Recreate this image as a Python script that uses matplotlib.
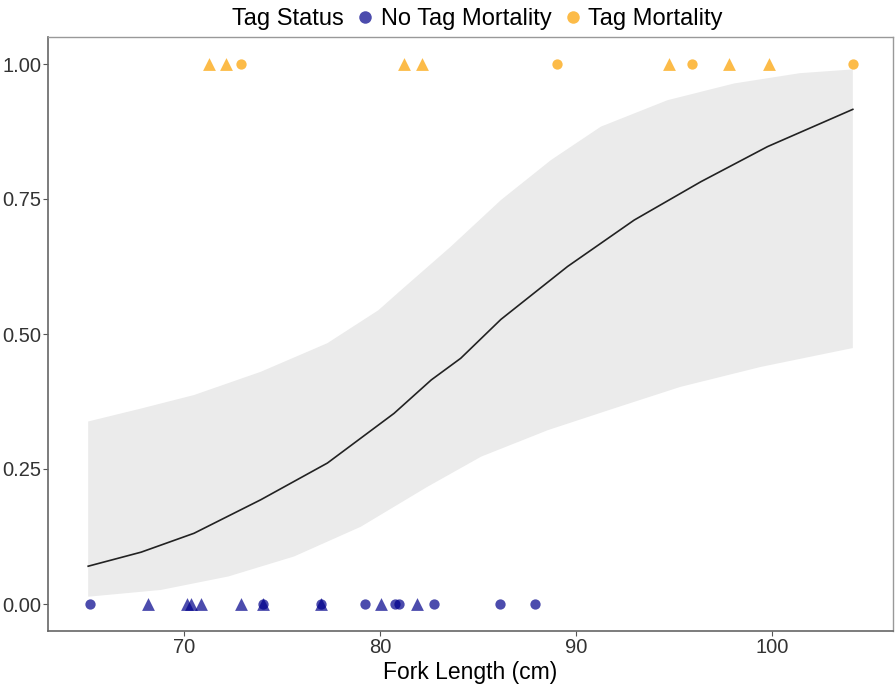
import numpy as np
import matplotlib
matplotlib.use('Agg')
import matplotlib.pyplot as plt
from matplotlib.lines import Line2D

plt.rcParams['font.family'] = ['Liberation Sans', 'DejaVu Sans']

# observations: y=0 no tag mortality, y=1 tag mortality
no_mort_circle_x = [65.2, 74.0, 77.0, 79.2, 80.75, 80.95, 82.75, 86.1, 87.9]
no_mort_triangle_x = [68.15, 70.15, 70.35, 70.85, 72.9, 74.0, 77.0, 80.05, 81.85]
mort_circle_x = [72.9, 89.0, 95.9, 104.1]
mort_triangle_x = [71.25, 72.15, 81.2, 82.15, 94.7, 97.8, 99.85]

# fitted logistic curve and confidence band
fit_x = [65.1, 67.8, 70.5, 73.9, 77.3, 80.7, 82.6, 84.1, 86.15, 89.55, 92.95, 96.35, 99.75, 104.1]
fit_y = [0.070, 0.096, 0.131, 0.193, 0.261, 0.353, 0.415, 0.455, 0.527, 0.625, 0.711, 0.782, 0.847, 0.916]

upper_x = [65.1, 67.8, 70.5, 73.9, 77.3, 79.9, 81.05, 83.6, 86.15, 88.7, 91.25, 94.65, 98.05, 101.4, 104.1]
upper_y = [0.338, 0.362, 0.387, 0.430, 0.483, 0.544, 0.581, 0.662, 0.748, 0.822, 0.884, 0.933, 0.964, 0.983, 0.990]

lower_x = [65.1, 68.8, 72.25, 75.6, 79.0, 82.4, 85.15, 88.55, 91.9, 95.3, 99.4, 104.1]
lower_y = [0.0135, 0.026, 0.051, 0.088, 0.143, 0.217, 0.273, 0.322, 0.362, 0.402, 0.439, 0.474]

blue = '#00008B'
orange = '#FCA50A'

fig = plt.figure(figsize=(8.96, 6.87), dpi=100)
ax = fig.add_axes([48 / 896, 1 - 631 / 687, (893 - 48) / 896, (631 - 37) / 687])

band_x = np.array(upper_x + lower_x[::-1])
band_y = np.array(upper_y + lower_y[::-1])
ax.fill(band_x, band_y, color='#EBEBEB', lw=0, zorder=1)
ax.plot(fit_x, fit_y, color='#222222', lw=1.2, zorder=2)

ax.scatter(no_mort_circle_x, np.zeros(len(no_mort_circle_x)), s=55, marker='o', color=blue, alpha=0.7, lw=0, zorder=3)
ax.scatter(no_mort_triangle_x, np.zeros(len(no_mort_triangle_x)), s=85, marker='^', color=blue, alpha=0.7, lw=0, zorder=3)
ax.scatter(mort_circle_x, np.ones(len(mort_circle_x)), s=55, marker='o', color=orange, alpha=0.75, lw=0, zorder=3)
ax.scatter(mort_triangle_x, np.ones(len(mort_triangle_x)), s=85, marker='^', color=orange, alpha=0.75, lw=0, zorder=3)

ax.set_xlim(63.05, 106.15)
ax.set_ylim(-0.05, 1.05)
ax.set_xticks([70, 80, 90, 100])
ax.set_yticks([0, 0.25, 0.5, 0.75, 1.0])
ax.set_yticklabels(['0.00', '0.25', '0.50', '0.75', '1.00'])
ax.tick_params(labelsize=14.5, length=3.5, width=0.8, color='#555555', labelcolor='#333333', pad=1.5)
ax.set_xlabel('Fork Length (cm)', fontsize=16.5, color='black', labelpad=3)

for side in ['left', 'bottom']:
    ax.spines[side].set_color('#666666')
    ax.spines[side].set_linewidth(1.2)
for side in ['top', 'right']:
    ax.spines[side].set_color('#999999')
    ax.spines[side].set_linewidth(1.0)

handles = [Line2D([], [], linestyle='none'),
           Line2D([], [], marker='o', linestyle='none', color=blue, alpha=0.7, markersize=9, markeredgewidth=0),
           Line2D([], [], marker='o', linestyle='none', color=orange, alpha=0.75, markersize=9, markeredgewidth=0)]
labels = ['Tag Status', 'No Tag Mortality', 'Tag Mortality']
leg = ax.legend(handles, labels, loc='lower center', bbox_to_anchor=(0.495, 1.008), ncol=3,
                frameon=False, fontsize=17, handlelength=0.6, handletextpad=0.35,
                columnspacing=0.6, borderaxespad=0, borderpad=0.1)

fig.savefig('out.png', dpi=100)
